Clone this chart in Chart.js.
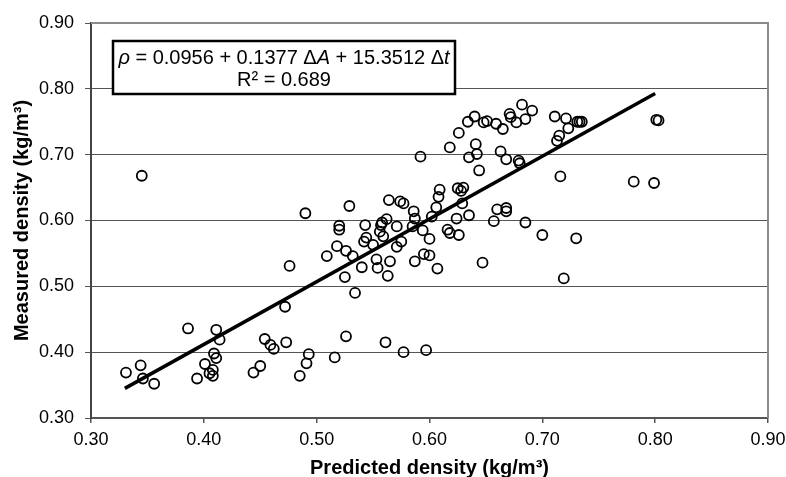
<!DOCTYPE html>
<html>
<head>
<meta charset="utf-8">
<script src="https://cdn.jsdelivr.net/npm/chart.js@4.4.0/dist/chart.umd.min.js"></script>
<style>
  body { margin: 0; background: #fff; }
  canvas { display: block; }
</style>
</head>
<body>
<canvas id="myChart" width="786" height="477"></canvas>
<script>
// predicted density (x) and measured density (y), kg/m3
const predicted = [
  0.331, 0.344, 0.346, 0.356, 0.345, 0.386, 0.394, 0.401, 0.405, 0.408,
  0.408, 0.409, 0.411, 0.411, 0.414, 0.444, 0.450, 0.454, 0.459, 0.462,
  0.473, 0.472, 0.476, 0.485, 0.491, 0.493, 0.490, 0.516, 0.526, 0.561,
  0.577, 0.597, 0.509, 0.518, 0.520, 0.520, 0.525, 0.526, 0.529, 0.532,
  0.534, 0.540, 0.542, 0.543, 0.544, 0.550, 0.553, 0.554, 0.556, 0.557,
  0.559, 0.562, 0.558, 0.564, 0.563, 0.565, 0.571, 0.571, 0.575, 0.574,
  0.577, 0.586, 0.587, 0.585, 0.587, 0.594, 0.595, 0.600, 0.600, 0.602,
  0.606, 0.607, 0.609, 0.608, 0.616, 0.618, 0.626, 0.624, 0.625, 0.628,
  0.630, 0.629, 0.635, 0.592, 0.618, 0.626, 0.634, 0.640, 0.641, 0.642,
  0.635, 0.644, 0.648, 0.651, 0.659, 0.665, 0.663, 0.668, 0.671, 0.672,
  0.677, 0.679, 0.680, 0.682, 0.685, 0.691, 0.711, 0.713, 0.715, 0.716,
  0.721, 0.723, 0.731, 0.733, 0.735, 0.781, 0.799, 0.801, 0.803, 0.660,
  0.668, 0.668, 0.657, 0.685, 0.700, 0.730, 0.647, 0.719
];
const measured = [
  0.369, 0.380, 0.360, 0.352, 0.668, 0.436, 0.360, 0.382, 0.368, 0.364,
  0.373, 0.398, 0.391, 0.434, 0.419, 0.369, 0.379, 0.420, 0.411, 0.405,
  0.415, 0.469, 0.531, 0.364, 0.383, 0.397, 0.611, 0.392, 0.424, 0.415,
  0.400, 0.403, 0.546, 0.561, 0.592, 0.586, 0.514, 0.554, 0.622, 0.546,
  0.490, 0.529, 0.568, 0.593, 0.574, 0.563, 0.541, 0.528, 0.583, 0.593,
  0.576, 0.602, 0.597, 0.631, 0.516, 0.538, 0.591, 0.560, 0.568, 0.629,
  0.626, 0.614, 0.538, 0.591, 0.603, 0.585, 0.549, 0.547, 0.572, 0.606,
  0.620, 0.527, 0.647, 0.636, 0.586, 0.581, 0.578, 0.603, 0.649, 0.645,
  0.650, 0.626, 0.608, 0.697, 0.711, 0.733, 0.750, 0.758, 0.716, 0.701,
  0.696, 0.676, 0.749, 0.751, 0.747, 0.739, 0.705, 0.693, 0.762, 0.757,
  0.749, 0.691, 0.687, 0.776, 0.754, 0.767, 0.758, 0.721, 0.729, 0.667,
  0.755, 0.740, 0.750, 0.750, 0.750, 0.659, 0.657, 0.753, 0.752, 0.617,
  0.619, 0.614, 0.599, 0.597, 0.578, 0.573, 0.536, 0.512
];

// fitted line end points
const fitX = [0.33, 0.80];
const fitY = [0.345, 0.793];

const equationParts = [
  ["\u03C1", true], [" = 0.0956 + 0.1377 ", false], ["\u0394", false], ["A", true],
  [" + 15.3512 ", false], ["\u0394", false], ["t", true]
];
const r2Text = "R\u00B2 = 0.689";

const FONT = "'Liberation Sans', Arial, sans-serif";

const points = predicted.map((x, i) => ({ x: x, y: measured[i] }));
const fitLine = fitX.map((x, i) => ({ x: x, y: fitY[i] }));

const frameAndBox = {
  id: "frameAndBox",
  afterDraw(chart) {
    const ctx = chart.ctx;
    const a = chart.chartArea;
    ctx.save();
    // top and right frame
    ctx.strokeStyle = "#8a8a8a";
    ctx.lineWidth = 2;
    ctx.beginPath();
    ctx.moveTo(a.left, a.top);
    ctx.lineTo(a.right, a.top);
    ctx.lineTo(a.right, a.bottom);
    ctx.stroke();

    // equation box
    const bx = a.left + 22, by = a.top + 18, bw = 342, bh = 53;
    ctx.fillStyle = "#fff";
    ctx.fillRect(bx, by, bw, bh);
    ctx.strokeStyle = "#000";
    ctx.lineWidth = 2.5;
    ctx.strokeRect(bx, by, bw, bh);

    ctx.fillStyle = "#000";
    ctx.textBaseline = "alphabetic";
    ctx.textAlign = "left";
    const size = 20;
    let total = 0;
    equationParts.forEach(p => {
      ctx.font = (p[1] ? "italic " : "") + size + "px " + FONT;
      total += ctx.measureText(p[0]).width;
    });
    let x = bx + bw / 2 - total / 2;
    equationParts.forEach(p => {
      ctx.font = (p[1] ? "italic " : "") + size + "px " + FONT;
      ctx.fillText(p[0], x, by + 23);
      x += ctx.measureText(p[0]).width;
    });
    ctx.font = size + "px " + FONT;
    ctx.textAlign = "center";
    ctx.fillText(r2Text, bx + bw / 2, by + 45);
    ctx.restore();
  }
};

var ctx = document.getElementById("myChart").getContext("2d");
var myChart = new Chart(ctx, {
  type: "scatter",
  data: {
    datasets: [
      {
        label: "Measured",
        data: points,
        pointRadius: 5,
        pointBorderWidth: 1.8,
        borderColor: "#000",
        backgroundColor: "rgba(0,0,0,0)",
        order: 2,
      },
      {
        type: "line",
        label: "Fit",
        data: fitLine,
        borderColor: "#000",
        borderWidth: 3.5,
        pointRadius: 0,
        fill: false,
        order: 1,
      },
    ],
  },
  options: {
    responsive: false,
    animation: false,
    layout: { padding: { top: 23, right: 18, left: 0, bottom: 0 } },
    plugins: {
      legend: { display: false },
      tooltip: { enabled: false },
    },
    scales: {
      x: {
        type: "linear",
        min: 0.3,
        max: 0.9,
        ticks: {
          stepSize: 0.1,
          callback: (v) => v.toFixed(2),
          color: "#000",
          font: { family: FONT, size: 18 },
          padding: 6,
          maxRotation: 0,
        },
        grid: { drawOnChartArea: false, drawTicks: true, tickLength: 5, color: "#555", lineWidth: 1.5 },
        border: { color: "#555", width: 2 },
        title: {
          display: true,
          text: "Predicted density (kg/m\u00B3)",
          color: "#000",
          font: { family: FONT, size: 20, weight: "bold" },
          padding: { top: 0, bottom: -3 },
        },
        afterFit: (s) => {
          s.height = 59;
          s.paddingLeft = 0;
          s.paddingRight = 0;
        },
      },
      y: {
        type: "linear",
        min: 0.3,
        max: 0.9,
        ticks: {
          stepSize: 0.1,
          callback: (v) => v.toFixed(2),
          color: "#000",
          font: { family: FONT, size: 18 },
          padding: 11,
        },
        grid: { drawOnChartArea: true, drawTicks: true, tickLength: 6, color: "#555", lineWidth: 1 },
        border: { color: "#444", width: 2 },
        title: {
          display: true,
          text: "Measured density (kg/m\u00B3)",
          color: "#000",
          font: { family: FONT, size: 20, weight: "bold" },
          padding: { top: 10, bottom: 0 },
        },
        afterFit: (s) => {
          s.width = 91;
          s.paddingTop = 0;
          s.paddingBottom = 0;
        },
      },
    },
  },
  plugins: [frameAndBox],
});
</script>
</body>
</html>
